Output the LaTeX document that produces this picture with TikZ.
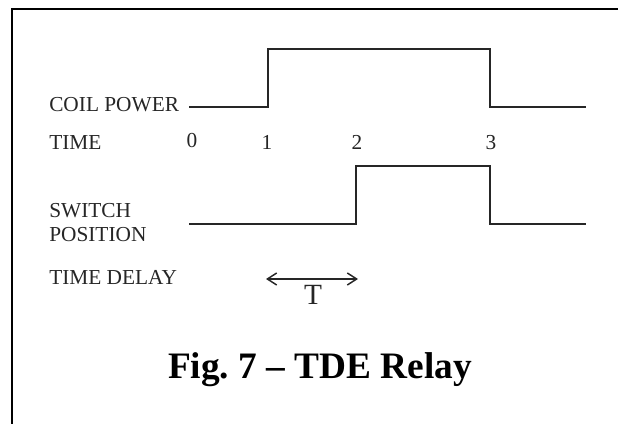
\documentclass[tikz,border=0pt]{standalone}
\usepackage{fontspec}
\setmainfont{Liberation Serif}
\usetikzlibrary{arrows.meta}
\definecolor{ink}{gray}{0.15}
\begin{document}
\begin{tikzpicture}[x=0.75pt,y=-0.75pt,
  lbl/.style={inner sep=0pt,anchor=base west,text=ink,font=\fontsize{16pt}{18pt}\selectfont},
  num/.style={inner sep=0pt,anchor=base,text=ink,font=\fontsize{16pt}{18pt}\selectfont},
  wave/.style={draw=ink,line width=1.4pt,line join=miter},
  frame/.style={draw=black,line width=1.1pt}]
\useasboundingbox (0,0) rectangle (618,424);
\draw[frame] (618,9) -- (12,9) -- (12,424);
% coil power waveform
\draw[wave] (189,107) -- (268,107) -- (268,49) -- (490,49) -- (490,107) -- (586,107);
% switch position waveform
\draw[wave] (189,224) -- (356,224) -- (356,166) -- (490,166) -- (490,224) -- (586,224);
% labels
\node[lbl] (coil) at (49,112) {COIL POWER};
\node[lbl] (time) at (49,150) {TIME};
\node[lbl] (sw) at (49,218) {SWITCH};
\node[lbl] (pos) at (49,242) {POSITION};
\node[lbl] (td) at (49,285) {TIME DELAY};
\node[num] (t0) at (192,148) {0};
\node[num] (t1) at (267,150) {1};
\node[num] (t2) at (357,150) {2};
\node[num] (t3) at (491,150) {3};
% time delay arrow
\coordinate (da) at (266,279);
\coordinate (db) at (358,279);
\draw[draw=ink,line width=1.1pt,{Straight Barb[length=7pt,width=9pt]}-{Straight Barb[length=7pt,width=9pt]}] (da) -- (db);
\node[inner sep=0pt,anchor=base,text=ink,font=\fontsize{22pt}{24pt}\selectfont] (T) at (313,305) {T};
% caption
\node[inner sep=0pt,anchor=base,font=\fontsize{28pt}{32pt}\selectfont\bfseries] (cap) at (320,378) {Fig.~7 – TDE Relay};
\end{tikzpicture}
\end{document}
